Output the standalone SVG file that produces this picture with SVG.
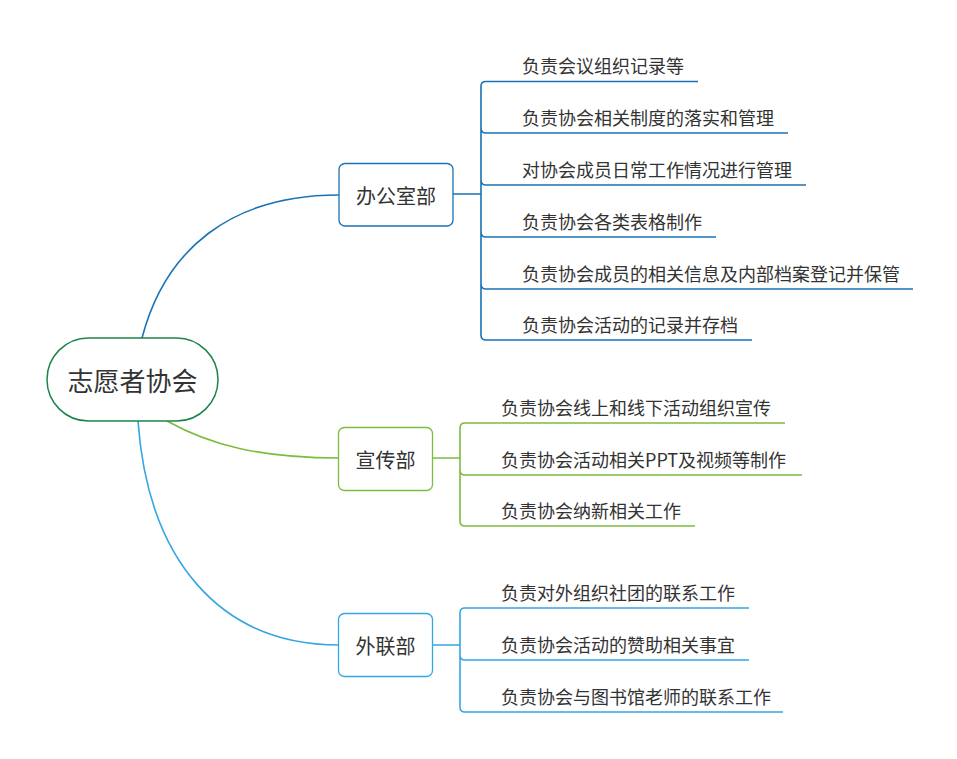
<svg xmlns="http://www.w3.org/2000/svg" width="957" height="759" viewBox="0 0 957 759">
<style>
text{font-family:"Noto Sans CJK SC","Noto Sans",sans-serif;fill:#333}
.item{font-size:18px}
.sub{font-size:20px;text-anchor:middle}
.c{fill:none;stroke-width:1.6}
.b1{stroke:#1a73b4}.b2{stroke:#7cbc3e}.b3{stroke:#35a7e0}
</style>
<rect width="957" height="759" fill="#fff"/>
<g id="connectors">
<path class="c b1" d="M142,338 C165,250 230,195 339,195"/>
<path class="c b2" d="M167,421 C210,445 260,458 339,458"/>
<path class="c b3" d="M138,421 C148,560 220,645 339,645"/>
<path class="c b1" d="M453,194 H481 M481,194 V86 Q481,81.5 486,81.5 H698 M481,194 V128 Q481,133 486,133 H788 M481,194 V180 Q481,185 486,185 H806 M481,194 V232 Q481,237 486,237 H716 M481,194 V284 Q481,289 486,289 H913 M481,194 V335 Q481,340 486,340 H752"/>
<path class="c b2" d="M433,458 H460 M460,458 V428 Q460,423 465,423 H785 M460,458 V470 Q460,475 465,475 H802 M460,458 V521 Q460,526 465,526 H695"/>
<path class="c b3" d="M433,645 H460 M460,645 V613 Q460,608 465,608 H749 M460,645 V655 Q460,660 465,660 H749 M460,645 V707 Q460,712 465,712 H783"/>
</g>
<g id="root">
<rect x="47" y="338" width="171" height="83" rx="41.5" fill="#fff" stroke="#1e8449" stroke-width="1.5"/>
<text x="132.5" y="391" font-size="26" text-anchor="middle">志愿者协会</text>
</g>
<g id="office">
<rect x="339" y="163.5" width="114" height="62.5" rx="6" fill="#fff" stroke="#1a73b4" stroke-width="1.3"/>
<text class="sub" x="396" y="204">办公室部</text>
</g>
<g id="office-items">
<text class="item" x="522" y="73">负责会议组织记录等</text>
<text class="item" x="522" y="124.5">负责协会相关制度的落实和管理</text>
<text class="item" x="522" y="176.5">对协会成员日常工作情况进行管理</text>
<text class="item" x="522" y="228.5">负责协会各类表格制作</text>
<text class="item" x="522" y="280.5">负责协会成员的相关信息及内部档案登记并保管</text>
<text class="item" x="522" y="331.5">负责协会活动的记录并存档</text>
</g>
<g id="publicity">
<rect x="338.5" y="427.5" width="94" height="63" rx="6" fill="#fff" stroke="#7cbc3e" stroke-width="1.3"/>
<text class="sub" x="385.5" y="468">宣传部</text>
</g>
<g id="publicity-items">
<text class="item" x="501" y="414.5">负责协会线上和线下活动组织宣传</text>
<text class="item" x="501" y="466.5">负责协会活动相关PPT及视频等制作</text>
<text class="item" x="501" y="517.5">负责协会纳新相关工作</text>
</g>
<g id="liaison">
<rect x="338.5" y="613.5" width="94" height="63" rx="6" fill="#fff" stroke="#35a7e0" stroke-width="1.3"/>
<text class="sub" x="385.5" y="654">外联部</text>
</g>
<g id="liaison-items">
<text class="item" x="501" y="599.5">负责对外组织社团的联系工作</text>
<text class="item" x="501" y="651.5">负责协会活动的赞助相关事宜</text>
<text class="item" x="501" y="703.5">负责协会与图书馆老师的联系工作</text>
</g>
</svg>
